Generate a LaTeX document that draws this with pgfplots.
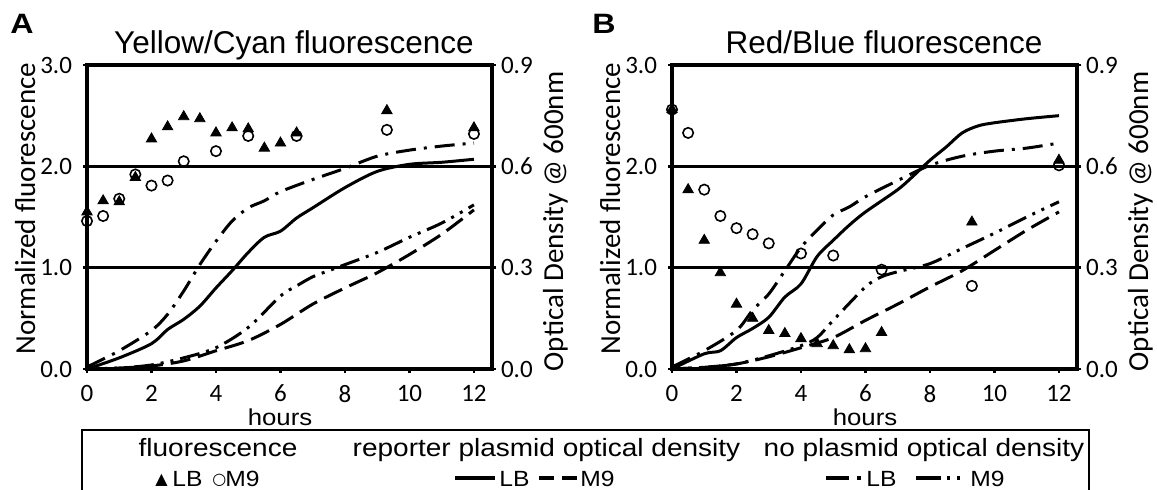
\documentclass[border=0pt]{standalone}
\usepackage{fontspec}
\setmainfont{Carlito}
\newfontfamily\arialf{Liberation Sans}
\newfontfamily\symf{DejaVu Sans}
\usepackage{graphicx}
\usepackage{pgfplots}
\pgfplotsset{compat=1.18}

\newcommand\legtext[2]{\scalebox{1.12}[1]{\arialf\fontsize{#1}{#1}\selectfont #2}}

\pgfplotsset{
  panel/.style={
    scale only axis, width=202.5pt, height=152pt, anchor=south west,
    xmin=0, xmax=12.56, clip=false,
    tick align=outside, major tick length=2pt,
    every tick/.style={black, line width=1.3pt},
    tick label style={font=\fontsize{12.5}{14}\selectfont},
  },
  panelL/.style={panel, ymin=0, ymax=3,
    ytick={0,1,2,3}, yticklabels={0.0,1.0,2.0,3.0},
    xtick={0,2,4,6,8,10,12}, xticklabels={0,2,4,6,8,10,12},
    tick pos=left,
    axis line style={line width=1.8pt},
    ymajorgrids, grid style={black, line width=1.5pt},
    yticklabel style={xshift=-2pt},
    xticklabel style={yshift=-2.5pt}},
  panelR/.style={panel, ymin=0, ymax=0.9,
    ytick={0,0.3,0.6,0.9}, yticklabels={0.0,0.3,0.6,0.9},
    xtick=\empty,
    axis x line=none, axis y line*=right,
    axis line style={line width=1.8pt},
    yticklabel style={xshift=-1pt}},
  trimark/.style={only marks, mark=triangle*, mark size=3pt, black},
  circmark/.style={only marks, mark=o, mark size=2.6pt, black, mark options={line width=0.8pt}},
  odline/.style={black, line width=1.5pt, smooth, mark=none},
  repLB/.style={odline},
  repM9/.style={odline, dash pattern=on 10pt off 4pt},
  noLB/.style={odline, dash pattern=on 10pt off 4pt on 1.5pt off 4pt},
  noM9/.style={odline, dash pattern=on 10pt off 3.5pt on 1.5pt off 3.5pt on 1.5pt off 3.5pt},
}

\begin{document}
\begin{tikzpicture}
\path[use as bounding box] (0,0) rectangle (578.5pt,244.5pt);

% ---------------- Panel A ----------------
\begin{axis}[panelL, at={(43.5pt,60pt)}]
\addplot[trimark] coordinates {(0,1.55) (0.5,1.66) (1,1.65) (1.5,1.89) (2,2.27) (2.5,2.39) (3,2.49) (3.5,2.47) (4,2.33) (4.5,2.38) (5,2.37) (5.5,2.18) (6,2.23) (6.5,2.33) (9.3,2.55) (12,2.38)};
\addplot[circmark] coordinates {(0,1.46) (0.5,1.51) (1,1.68) (1.5,1.92) (2,1.81) (2.5,1.86) (3,2.05) (4,2.15) (5,2.30) (6.5,2.30) (9.3,2.36) (12,2.32)};
\end{axis}
\begin{axis}[panelR, at={(43.5pt,60pt)}]
\addplot[repLB] coordinates {(0,0) (1,0.033) (2,0.075) (2.5,0.117) (3,0.147) (3.5,0.186) (4,0.240) (4.5,0.291) (5,0.345) (5.5,0.390) (6,0.408) (6.5,0.447) (7,0.477) (8,0.537) (9,0.585) (10,0.606) (11,0.612) (12,0.621)};
\addplot[noLB] coordinates {(0,0.006) (1,0.054) (2,0.114) (2.5,0.162) (3,0.231) (3.5,0.309) (4,0.378) (4.5,0.438) (5,0.477) (5.5,0.498) (6,0.525) (7,0.561) (8,0.594) (9,0.630) (10,0.648) (11,0.660) (12,0.669)};
\addplot[repM9] coordinates {(0,0) (1,0.003) (2,0.009) (3,0.024) (4,0.054) (5,0.084) (6,0.132) (7,0.192) (8,0.240) (9,0.285) (10,0.339) (11,0.399) (12,0.471)};
\addplot[noM9] coordinates {(0,0) (1,0.003) (2,0.012) (3,0.033) (4,0.063) (5,0.123) (6,0.216) (6.5,0.246) (7,0.273) (7.5,0.291) (8,0.309) (9,0.345) (10,0.390) (11,0.432) (12,0.486)};
\end{axis}

% ---------------- Panel B ----------------
\begin{axis}[panelL, at={(336pt,60pt)}]
\addplot[trimark] coordinates {(0,2.56) (0.5,1.77) (1,1.27) (1.5,0.95) (2,0.64) (2.5,0.50) (3,0.38) (3.5,0.35) (4,0.30) (4.5,0.25) (5,0.23) (5.5,0.19) (6,0.20) (6.5,0.36) (9.3,1.45) (12,2.06)};
\addplot[circmark] coordinates {(0,2.56) (0.5,2.33) (1,1.77) (1.5,1.51) (2,1.39) (2.5,1.33) (3,1.24) (4,1.14) (5,1.12) (6.5,0.98) (9.3,0.82) (12,2.01)};
\end{axis}
\begin{axis}[panelR, at={(336pt,60pt)}]
\addplot[repLB] coordinates {(0,0) (1,0.045) (1.5,0.054) (2,0.093) (2.5,0.120) (3,0.153) (3.5,0.213) (4,0.252) (4.5,0.333) (5,0.381) (5.5,0.426) (6,0.465) (7,0.531) (7.5,0.573) (8,0.618) (8.5,0.657) (9,0.699) (9.5,0.720) (10,0.729) (11,0.741) (12,0.750)};
\addplot[noLB] coordinates {(0,0.006) (1,0.054) (2,0.114) (2.5,0.174) (3,0.222) (3.5,0.291) (4,0.360) (4.5,0.411) (5,0.456) (5.5,0.480) (6,0.510) (7,0.558) (8,0.603) (9,0.630) (10,0.645) (11,0.654) (12,0.669)};
\addplot[repM9] coordinates {(0,0) (1,0.005) (2,0.015) (3,0.036) (4,0.063) (5,0.093) (6,0.144) (7,0.192) (8,0.243) (9,0.291) (10,0.351) (11,0.411) (12,0.465)};
\addplot[noM9] coordinates {(0,0) (1,0.005) (2,0.015) (3,0.039) (4,0.069) (4.5,0.093) (5,0.144) (6,0.243) (6.5,0.273) (7,0.288) (8,0.312) (9,0.357) (10,0.402) (11,0.450) (12,0.495)};
\end{axis}

% ---------------- Labels ----------------
\node[anchor=base west, inner sep=0] at (5pt,228pt) {\scalebox{1.15}[1]{\arialf\bfseries\fontsize{14}{14}\selectfont A}};
\node[anchor=base west, inner sep=0] at (296pt,228pt) {\scalebox{1.15}[1]{\arialf\bfseries\fontsize{14}{14}\selectfont B}};
\node[anchor=base, inner sep=0] at (147pt,218pt) {\arialf\fontsize{15.75}{16}\selectfont Yellow/Cyan fluorescence};
\node[anchor=base, inner sep=0] at (442pt,218pt) {\arialf\fontsize{15.75}{16}\selectfont Red/Blue fluorescence};

\node[rotate=90, anchor=base, inner sep=0] at (17.5pt,140.25pt) {\fontsize{14.5}{16}\selectfont Normalized fluorescence};
\node[rotate=90, anchor=base, inner sep=0] at (281.5pt,133.75pt) {\fontsize{14.5}{16}\selectfont Optical Density @ 600nm};
\node[rotate=90, anchor=base, inner sep=0] at (310pt,140.25pt) {\fontsize{14.5}{16}\selectfont Normalized fluorescence};
\node[rotate=90, anchor=base, inner sep=0] at (574pt,133.75pt) {\fontsize{14.5}{16}\selectfont Optical Density @ 600nm};

\node[anchor=base, inner sep=0] at (140pt,32pt) {\legtext{11.5}{hours}};
\node[anchor=base, inner sep=0] at (432.5pt,32pt) {\legtext{11.5}{hours}};

% ---------------- Legend ----------------
\draw[line width=1pt] (41pt,-2pt) -- (41pt,29.5pt) -- (544.5pt,29.5pt) -- (544.5pt,-2pt);
\node[anchor=base, inner sep=0] at (109pt,16.5pt) {\legtext{12.5}{fluorescence}};
\node[anchor=base, inner sep=0] at (273.25pt,16.5pt) {\legtext{12.5}{reporter plasmid optical density}};
\node[anchor=base, inner sep=0] at (462pt,16.5pt) {\legtext{12.5}{no plasmid optical density}};

\node[anchor=base west, inner sep=0] at (77.5pt,2.5pt) {\symf\fontsize{8}{8}\selectfont ▲};
\node[anchor=base west, inner sep=0] at (86pt,1.5pt) {\legtext{11}{LB}};
\node[anchor=base west, inner sep=0] at (106pt,2.3pt) {\symf\fontsize{8}{8}\selectfont ○};
\node[anchor=base west, inner sep=0] at (112.5pt,1.5pt) {\legtext{11}{M9}};

\node[anchor=west, inner sep=0] at (227.5pt,5.5pt) {\rule{20pt}{2pt}};
\node[anchor=base west, inner sep=0] at (249.5pt,1.5pt) {\legtext{11}{LB}};
\node[anchor=west, inner sep=0] at (269.5pt,5.5pt) {\rule{7.5pt}{2pt}\hspace{4pt}\rule{7.5pt}{2pt}};
\node[anchor=base west, inner sep=0] at (290pt,1.5pt) {\legtext{11}{M9}};

\node[anchor=west, inner sep=0] at (413pt,5.5pt) {\rule{11.5pt}{2pt}\hspace{4pt}\rule{2pt}{2pt}};
\node[anchor=base west, inner sep=0] at (433pt,1.5pt) {\legtext{11}{LB}};
\node[anchor=west, inner sep=0] at (458pt,5.5pt) {\rule{12.5pt}{2pt}\hspace{3pt}\rule{1.5pt}{2pt}\hspace{3.5pt}\rule{1.5pt}{2pt}};
\node[anchor=base west, inner sep=0] at (485pt,1.5pt) {\legtext{11}{M9}};
\end{tikzpicture}
\end{document}
